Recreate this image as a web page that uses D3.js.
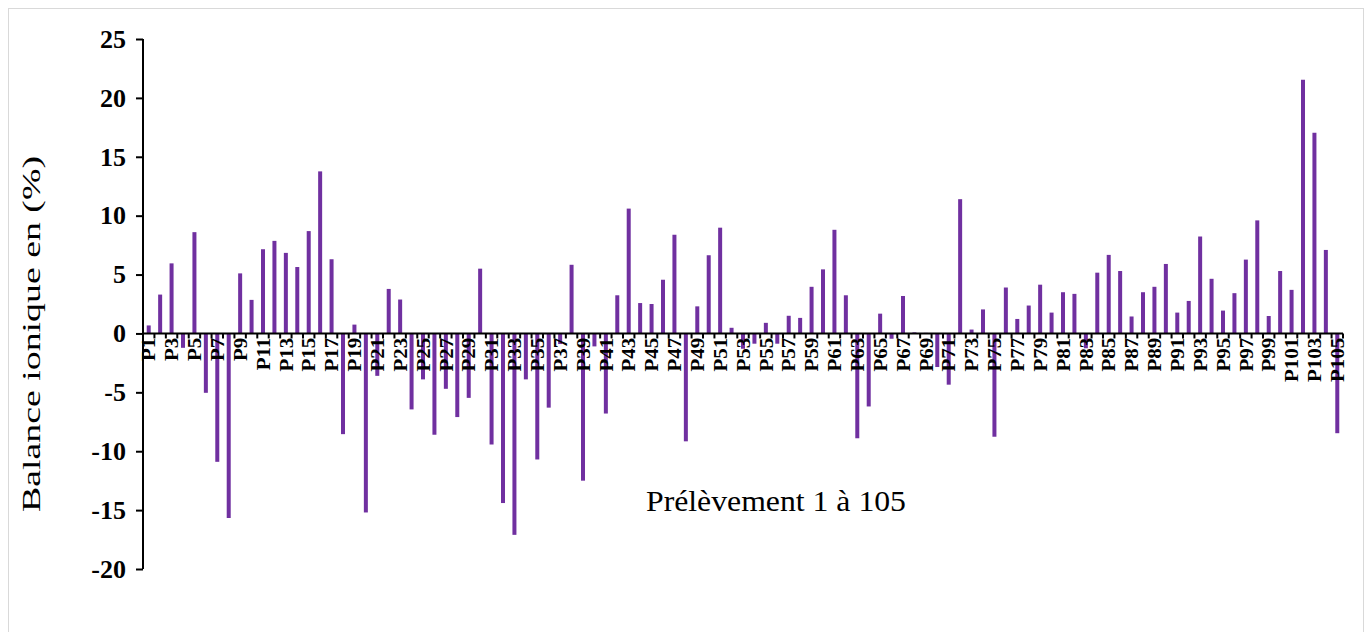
<!DOCTYPE html>
<html>
<head>
<meta charset="utf-8">
<script src="https://cdn.jsdelivr.net/npm/d3@7/dist/d3.min.js"></script>
<style>
  html, body { margin: 0; padding: 0; background: #ffffff; }
  svg { display: block; }
</style>
</head>
<body>
<svg id="chart" width="1371" height="632"></svg>
<script>
// ---- Data ----
const categories = d3.range(1, 106).map(i => "P" + i);
const values = [
  0.68, 3.3, 5.95, -1.22, 8.6, -5.04, -10.9, -15.67, 5.1, 2.85,
  7.15, 7.86, 6.84, 5.64, 8.69, 13.76, 6.3, -8.55, 0.75, -15.2,
  -3.6, 3.78, 2.88, -6.45, -3.9, -8.6, -4.7, -7.1, -5.47, 5.5,
  -9.43, -14.4, -17.1, -3.9, -10.7, -6.3, -0.9, 5.83, -12.5, -1.1,
  -6.8, 3.24, 10.6, 2.58, 2.5, 4.56, 8.38, -9.16, 2.3, 6.64,
  8.98, 0.48, -1.3, -0.87, 0.9, -0.87, 1.5, 1.32, 3.96, 5.44,
  8.8, 3.24, -8.9, -6.2, 1.68, -0.45, 3.18, 0.09, 0.05, -2.85,
  -4.35, 11.4, 0.33, 2.04, -8.77, 3.9, 1.23, 2.37, 4.14, 1.77,
  3.5, 3.36, -1.26, 5.16, 6.67, 5.3, 1.44, 3.5, 3.96, 5.9,
  1.77, 2.76, 8.23, 4.64, 1.94, 3.42, 6.27, 9.6, 1.48, 5.3,
  3.7, 21.54, 17.04, 7.09, -8.47
];
const yTicks = [-20, -15, -10, -5, 0, 5, 10, 15, 20, 25];
const xTickLabels = categories.filter((d, i) => i % 2 === 0);
const yTitle = "Balance ionique en (%)";
const xTitle = "Prélèvement 1 à 105";

// ---- Layout ----
const svg = d3.select("#chart");
const mLeft = 143, mRight = 1343, mTop = 39, mBottom = 569;
const barColor = "#7030A0";
const serif = "'Liberation Serif', 'Times New Roman', serif";

svg.append("rect")
  .attr("x", 8.5).attr("y", 8.5)
  .attr("width", 1355).attr("height", 640)
  .attr("fill", "#ffffff").attr("stroke", "#d9d9d9").attr("stroke-width", 1);

const x = d3.scaleBand().domain(categories).range([mLeft, mRight]).paddingInner(0.65).paddingOuter(0.325);
const xb = d3.scaleBand().domain(categories).range([mLeft, mRight]).padding(0);
const y = d3.scaleLinear().domain([-20, 25]).range([mBottom, mTop]);

// Bars
svg.append("g").selectAll("rect")
  .data(values)
  .join("rect")
  .attr("x", (d, i) => x(categories[i]))
  .attr("width", x.bandwidth())
  .attr("y", d => y(Math.max(0, d)))
  .attr("height", d => Math.abs(y(d) - y(0)))
  .attr("fill", barColor);

// Y axis
const yAxis = svg.append("g")
  .attr("transform", `translate(${mLeft},0)`)
  .call(d3.axisLeft(y).tickValues(yTicks).tickSize(7).tickPadding(10).tickFormat(d => String(d)));
yAxis.select(".domain").attr("stroke", "#000").attr("stroke-width", 2).attr("d", `M0,${mTop}V${mBottom}`);
yAxis.selectAll(".tick line").attr("stroke", "#000").attr("stroke-width", 2);
yAxis.selectAll(".tick text")
  .attr("fill", "#000")
  .style("font-family", serif).style("font-weight", "bold").style("font-size", "26px");

// X axis (at zero)
const x0 = y(0);
const xAxis = svg.append("g")
  .attr("transform", `translate(0,${x0})`)
  .call(d3.axisBottom(xb).tickValues(xTickLabels).tickSize(0));
xAxis.select(".domain").attr("stroke", "#000").attr("stroke-width", 2).attr("d", `M${mLeft},0H${mRight}`);
xAxis.selectAll(".tick text")
  .attr("transform", "rotate(-90) scale(1.1,1)")
  .attr("x", -4).attr("y", 0).attr("dy", "0.35em")
  .style("text-anchor", "end")
  .attr("fill", "#000")
  .style("font-family", serif).style("font-weight", "bold").style("font-size", "19px");

// boundary tick marks
const bounds = categories.map(c => xb(c)).concat([mRight]);
svg.append("g").selectAll("line")
  .data(bounds)
  .join("line")
  .attr("x1", d => d).attr("x2", d => d)
  .attr("y1", x0).attr("y2", x0 + 5)
  .attr("stroke", "#000").attr("stroke-width", 2);

// Titles
svg.append("text")
  .attr("transform", `translate(40,334) rotate(-90)`)
  .attr("text-anchor", "middle")
  .attr("textLength", 356).attr("lengthAdjust", "spacingAndGlyphs")
  .style("font-family", serif).style("font-size", "25px")
  .attr("fill", "#000")
  .text(yTitle);

svg.append("text")
  .attr("x", 776).attr("y", 511)
  .attr("text-anchor", "middle")
  .attr("textLength", 260).attr("lengthAdjust", "spacingAndGlyphs")
  .style("font-family", serif).style("font-size", "29px")
  .attr("fill", "#000")
  .text(xTitle);
</script>
</body>
</html>
